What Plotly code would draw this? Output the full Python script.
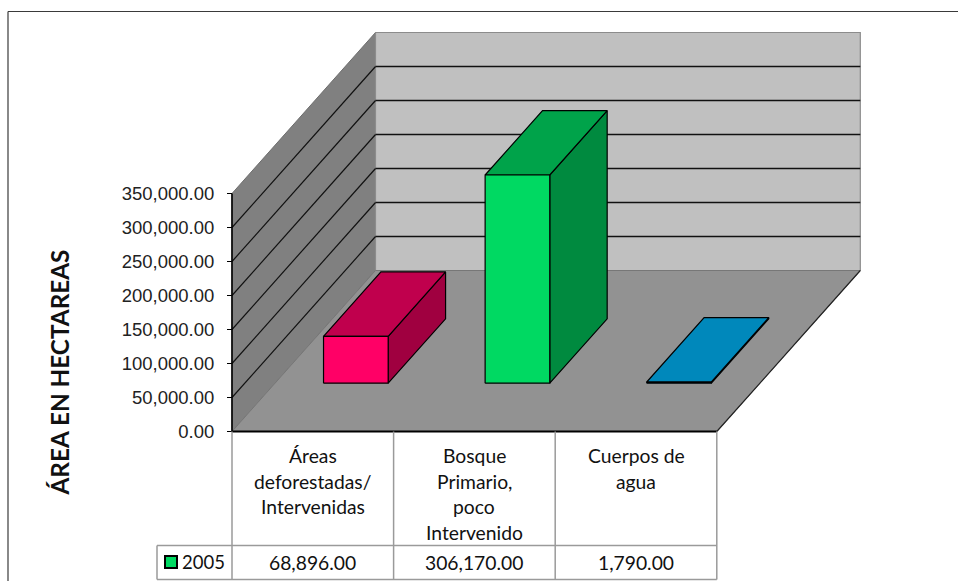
import plotly.graph_objects as go

# ---- data ----
categories = [["Áreas", "deforestadas/", "Intervenidas"],
              ["Bosque", "Primario,", "poco", "Intervenido"],
              ["Cuerpos de", "agua"]]
values = [68896.00, 306170.00, 1790.00]
series_name = "2005"
tick_values = [0, 50000, 100000, 150000, 200000, 250000, 300000, 350000]
axis_title = "ÁREA EN HECTAREAS"
front_colors = ["#FF0066", "#00D962", "#0088BB"]
top_colors = ["#C0004D", "#00A34A", "#0088BB"]
side_colors = ["#A00040", "#008A3F", "#006A90"]

# ---- page geometry ----
W, H = 958, 581
X0, Y0 = 232.0, 431.5          # pixel position of category 0 / value 0
CAT_PX = 161.6                 # pixels per category
VAL_PX = 238.0 / 350000        # pixels per value unit
DX_PX, DY_PX = 143.5, 161.0    # oblique depth offset, full depth
YMAX = 350000
NCAT = len(values)
GAP = 0.3                      # bar inset both along x and in depth


def proj(c, v, d):
    """category pos, value, depth -> axis coordinates (obliquely projected)."""
    return c + d * DX_PX / CAT_PX, v + d * DY_PX / VAL_PX


def poly(pts, fill, line="black", width=1.2):
    xy = [proj(*p) for p in pts]
    xs = [a for a, _ in xy] + [xy[0][0]]
    ys = [b for _, b in xy] + [xy[0][1]]
    return go.Scatter(x=xs, y=ys, mode="lines", fill="toself", fillcolor=fill,
                      line=dict(color=line, width=width), hoverinfo="skip", showlegend=False)


def seg(a, b, color="black", width=1.2):
    xy = [proj(*a), proj(*b)]
    return go.Scatter(x=[xy[0][0], xy[1][0]], y=[xy[0][1], xy[1][1]], mode="lines",
                      line=dict(color=color, width=width), hoverinfo="skip", showlegend=False)


fig = go.Figure()
# walls and floor
fig.add_trace(poly([(0, 0, 0), (0, YMAX, 0), (0, YMAX, 1), (0, 0, 1)], "#808080", "#6E6E6E", 1))
fig.add_trace(poly([(0, 0, 1), (0, YMAX, 1), (NCAT, YMAX, 1), (NCAT, 0, 1)], "#C0C0C0", "#8C8C8C", 1.2))
fig.add_trace(poly([(0, 0, 0), (NCAT, 0, 0), (NCAT, 0, 1), (0, 0, 1)], "#929292", "#777777", 1))
# gridlines
for t in tick_values[1:-1]:
    fig.add_trace(seg((0, t, 0), (0, t, 1), "#111111", 1.2))
    fig.add_trace(seg((0, t, 1), (NCAT, t, 1), "#111111", 1.4))
fig.add_trace(seg((NCAT, 0, 0), (NCAT, 0, 1), "#222222", 1.2))
fig.add_trace(seg((0, 0, 0), (0, YMAX, 0), "black", 1.6))
fig.add_trace(seg((0, 0, 0), (NCAT, 0, 0), "black", 2.2))

# bars
for i, v in enumerate(values):
    c0, c1 = i + GAP, i + 1 - GAP
    d0, d1 = GAP, 1 - GAP
    fig.add_trace(poly([(c1, 0, d0), (c1, v, d0), (c1, v, d1), (c1, 0, d1)], side_colors[i]))
    fig.add_trace(poly([(c0, v, d0), (c1, v, d0), (c1, v, d1), (c0, v, d1)], top_colors[i]))
    fig.add_trace(poly([(c0, 0, d0), (c1, 0, d0), (c1, v, d0), (c0, v, d0)], front_colors[i]))


def px(x):
    return x / W


def py(y):
    return 1 - y / H


TABLE_LINE = "#9A9A9A"
Y_SPLIT, Y_BOTTOM = 545.5, 579.5
X_LEG = 157.0
shapes = []


def hline(x0, x1, y, color=TABLE_LINE, width=1.5):
    shapes.append(dict(type="line", xref="paper", yref="paper", x0=px(x0), x1=px(x1),
                       y0=py(y), y1=py(y), line=dict(color=color, width=width)))


def vline(x, y0, y1, color=TABLE_LINE, width=1.5):
    shapes.append(dict(type="line", xref="paper", yref="paper", x0=px(x), x1=px(x),
                       y0=py(y0), y1=py(y1), line=dict(color=color, width=width)))


# table grid
for k in range(NCAT + 1):
    vline(X0 + k * CAT_PX, Y0, Y_BOTTOM)
vline(X_LEG, Y_SPLIT, Y_BOTTOM)
hline(X_LEG, X0 + NCAT * CAT_PX, Y_SPLIT)
hline(X_LEG, X0 + NCAT * CAT_PX, Y_BOTTOM)
# outer frame
hline(8, W, 11.5, "#3A3A3A", 1.2)
vline(8, 11.5, H, "#3A3A3A", 1.2)
# legend key
shapes.append(dict(type="rect", xref="paper", yref="paper", x0=px(165), x1=px(177),
                   y0=py(568), y1=py(556), fillcolor=front_colors[1],
                   line=dict(color="black", width=2)))

TXT = "Lato"
ann = []
for i, lines in enumerate(categories):
    cx = X0 + (i + 0.5) * CAT_PX
    for j, s in enumerate(lines):
        ann.append(dict(text=s, xref="paper", yref="paper", x=px(cx), y=py(455.5 + j * 25.6),
                        showarrow=False, xanchor="center", yanchor="middle",
                        font=dict(family=TXT, size=19.3, color="#111111")))
    ann.append(dict(text=f"{values[i]:,.2f}", xref="paper", yref="paper", x=px(cx), y=py(562.5),
                    showarrow=False, xanchor="center", yanchor="middle",
                    font=dict(family=TXT, size=19.3, color="#111111")))
ann.append(dict(text=series_name, xref="paper", yref="paper", x=px(203.5), y=py(562),
                showarrow=False, xanchor="center", yanchor="middle",
                font=dict(family=TXT, size=18.5, color="#111111")))
ann.append(dict(text=f"<b>{axis_title}</b>", xref="paper", yref="paper", x=px(59), y=py(372.5),
                showarrow=False, xanchor="center", yanchor="middle", textangle=-90,
                font=dict(family=TXT, size=24.3, color="#111111")))

fig.update_layout(
    width=W, height=H, margin=dict(l=0, r=0, t=0, b=0, autoexpand=False),
    paper_bgcolor="white", plot_bgcolor="white", showlegend=False,
    shapes=shapes, annotations=ann,
    xaxis=dict(range=[-X0 / CAT_PX, (W - X0) / CAT_PX], domain=[0, 1], visible=False, fixedrange=True),
    yaxis=dict(range=[-(H - Y0) / VAL_PX, Y0 / VAL_PX], domain=[0, 1], anchor="free", position=X0 / W,
               tickmode="array", tickvals=tick_values, tickformat=",.2f",
               ticks="outside", ticklen=5, tickcolor="black", tickwidth=1.2,
               showgrid=False, zeroline=False, showline=False, ticklabelstandoff=9,
               tickfont=dict(family="Liberation Sans, Arial, sans-serif", size=18.5, color="#222222"),
               fixedrange=True),
)
fig.write_html("out.html", config=dict(displayModeBar=False),
               post_script="document.body.style.margin='0';document.body.style.overflow='hidden';")
